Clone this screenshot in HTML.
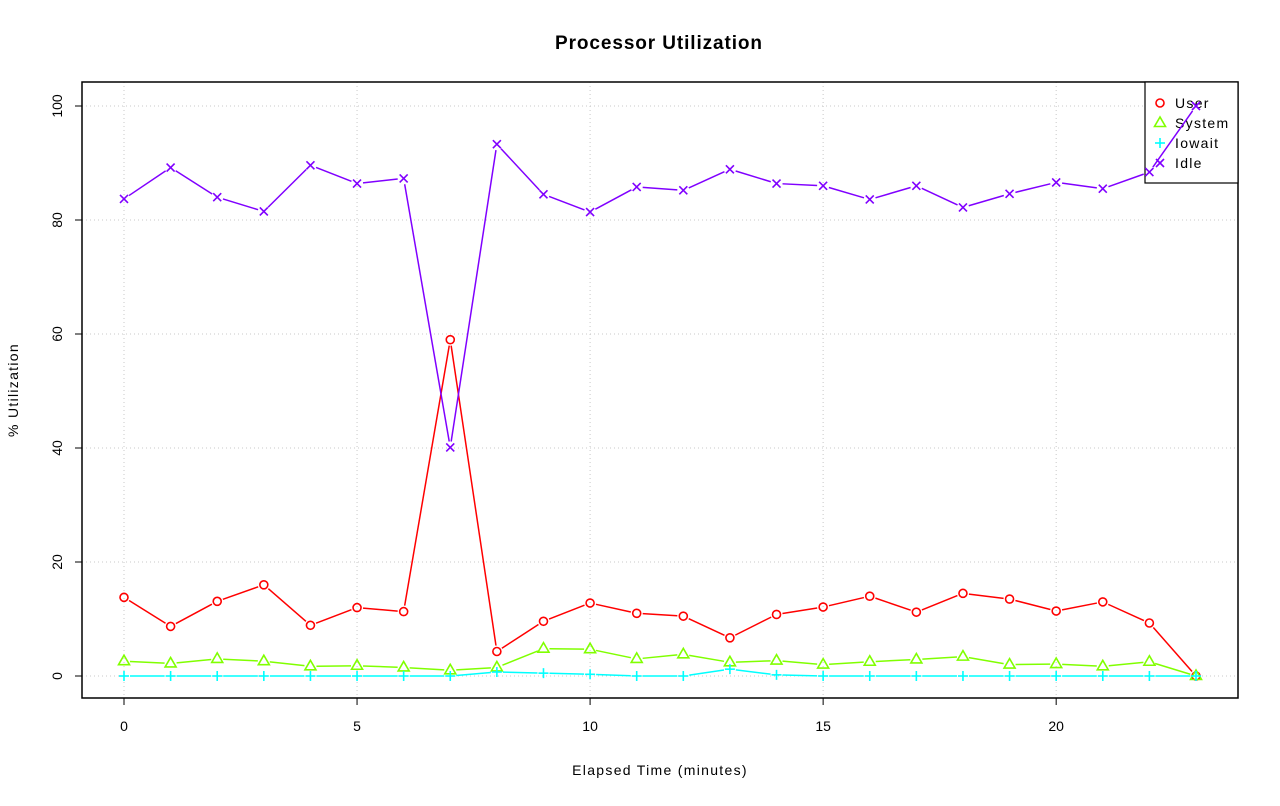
<!DOCTYPE html>
<html><head><meta charset="utf-8"><style>
html,body{margin:0;padding:0;background:#fff;}
svg text{font-family:"Liberation Sans",sans-serif;}
</style></head><body>
<svg id="chart" width="1280" height="801" xmlns="http://www.w3.org/2000/svg"></svg>
<script>
const xTicks=[0,5,10,15,20];
const yTicks=[0,20,40,60,80,100];
const userVals=[13.8,8.7,13.1,16.0,8.9,12.0,11.3,59.0,4.3,9.6,12.8,11.0,10.5,6.7,10.8,12.1,14.0,11.2,14.5,13.5,11.4,13.0,9.3,0];
const systemVals=[2.6,2.2,3.0,2.6,1.7,1.8,1.5,1.0,1.5,4.8,4.7,3.0,3.8,2.4,2.7,2.0,2.5,2.9,3.4,2.0,2.1,1.7,2.5,0];
const iowaitVals=[0,0,0,0,0,0,0,0,0.7,0.5,0.3,0,0,1.2,0.2,0,0,0,0,0,0,0,0,0];
const idleVals=[83.7,89.2,84.0,81.5,89.6,86.4,87.3,40.1,93.3,84.5,81.4,85.8,85.2,88.9,86.4,86.0,83.6,86.0,82.2,84.6,86.6,85.5,88.4,100];
const seriesNames=["User","System","Iowait","Idle"];

const svg=document.getElementById('chart');
const NS='http://www.w3.org/2000/svg';
const L=82,R=1238,T=82,B=698;
const sx=v=>124+v*(1196-124)/23;
const sy=v=>676-v*(676-106)/100;
function mk(tag,attrs,parent){const e=document.createElementNS(NS,tag);for(const k in attrs)e.setAttribute(k,attrs[k]);(parent||svg).appendChild(e);return e;}

let t=mk('text',{x:659,y:49,'text-anchor':'middle','font-size':19,'font-weight':'bold','letter-spacing':0.9});t.textContent='Processor Utilization';



const grid=mk('g',{});


xTicks.forEach(v=>mk('line',{x1:sx(v),x2:sx(v),y1:T,y2:B,stroke:'#c8c8c8','stroke-dasharray':'1,3'},grid));
yTicks.forEach(v=>mk('line',{x1:L,x2:R,y1:sy(v),y2:sy(v),stroke:'#c8c8c8','stroke-dasharray':'1,3'},grid));

const box=mk('rect',{x:L,y:T,width:R-L,height:B-T,fill:'none',stroke:'#000','stroke-width':1.5});



const xa=mk('g',{});


mk('line',{x1:sx(0),x2:sx(20),y1:B,y2:B,stroke:'#000'},xa);
xTicks.forEach(v=>{mk('line',{x1:sx(v),x2:sx(v),y1:B,y2:B+7,stroke:'#000'},xa);
 const tx=mk('text',{x:sx(v),y:B+33,'text-anchor':'middle','font-size':14},xa);tx.textContent=v;});
const ya=mk('g',{});


yTicks.forEach(v=>{mk('line',{x1:L,x2:L-7,y1:sy(v),y2:sy(v),stroke:'#000'},ya);
 const tx=mk('text',{x:0,y:0,'text-anchor':'middle','font-size':14,transform:`translate(${L-20},${sy(v)}) rotate(-90)`},ya);tx.textContent=v;});
let xl=mk('text',{x:660,y:775,'text-anchor':'middle','font-size':14,'letter-spacing':1.3});xl.textContent='Elapsed Time (minutes)';


let yl=mk('text',{x:0,y:0,'text-anchor':'middle','font-size':14,'letter-spacing':1.3,transform:'translate(18,390) rotate(-90)'});yl.textContent='% Utilization';



function marker(g,type,x,y,c){
 if(type==='o')mk('circle',{cx:x,cy:y,r:4,fill:'none',stroke:c,'stroke-width':1.6},g);
 else if(type==='tri')mk('polygon',{points:`${x},${y-6} ${x-5.5},${y+3.5} ${x+5.5},${y+3.5}`,fill:'none',stroke:c,'stroke-width':1.6},g);
 else if(type==='+'){mk('line',{x1:x-5,x2:x+5,y1:y,y2:y,stroke:c,'stroke-width':1.6},g);mk('line',{x1:x,x2:x,y1:y-5,y2:y+5,stroke:c,'stroke-width':1.6},g);}
 else {mk('line',{x1:x-4,x2:x+4,y1:y-4,y2:y+4,stroke:c,'stroke-width':1.6},g);mk('line',{x1:x-4,x2:x+4,y1:y+4,y2:y-4,stroke:c,'stroke-width':1.6},g);}
}
const series=[[userVals,'#ff0000','o','user-series'],[systemVals,'#80ff00','tri','system-series'],[iowaitVals,'#00ffff','+','iowait-series'],[idleVals,'#8000ff','x','idle-series']];

const lg=mk('g',{});


mk('rect',{x:1145,y:82,width:93,height:101,fill:'#fff',stroke:'#000','stroke-width':1.2},lg);
series.forEach(([v,c,m],i)=>{
 const y=103+i*20;
 const e=mk('g',{},lg);
 
 
 marker(e,m,1160,y,c);
 const tx=mk('text',{x:1175,y:y+5,'font-size':14,'letter-spacing':1.3},e);tx.textContent=seriesNames[i];
});

series.forEach(([vals,c,m,name])=>{
 const g=mk('g',{});
 
 
 const pts=vals.map((v,i)=>[sx(i),sy(v)]);
 for(let i=0;i<pts.length-1;i++){
  const [x1,y1]=pts[i],[x2,y2]=pts[i+1];const d=Math.hypot(x2-x1,y2-y1);const g0=6/d;
  if(d>12)mk('line',{x1:x1+(x2-x1)*g0,y1:y1+(y2-y1)*g0,x2:x2-(x2-x1)*g0,y2:y2-(y2-y1)*g0,stroke:c,'stroke-width':1.5},g);
 }
 pts.forEach(([x,y])=>marker(g,m,x,y,c));
});
</script>
</body></html>
